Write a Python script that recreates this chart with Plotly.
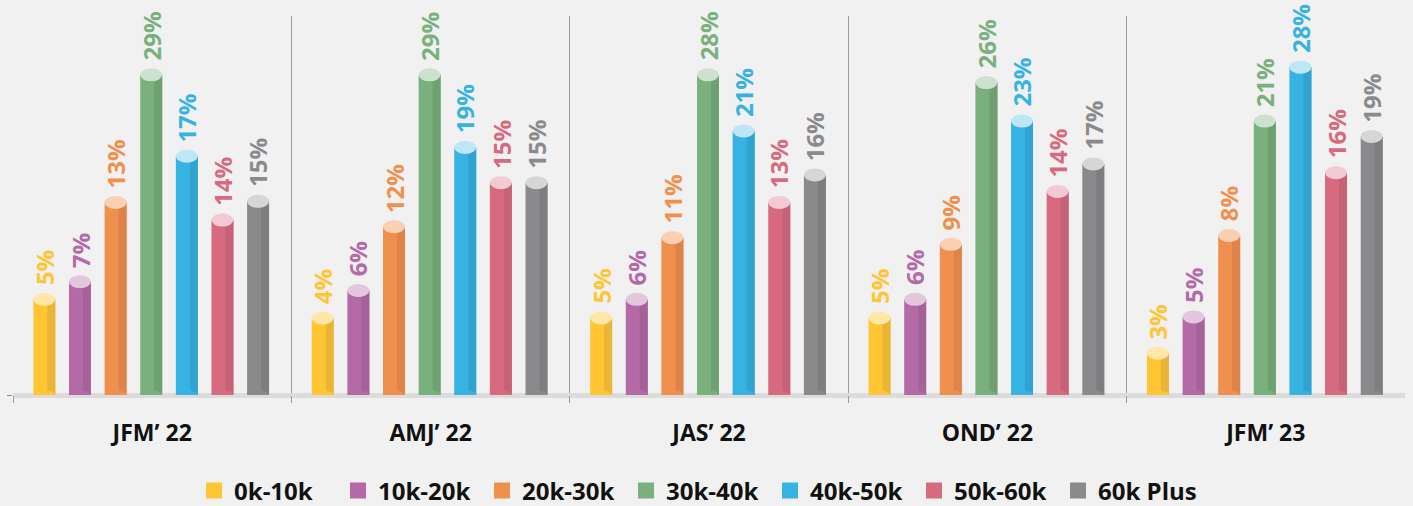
import plotly.graph_objects as go

# ---------------- data ----------------
periods = ["JFM’ 22", "AMJ’ 22", "JAS’ 22", "OND’ 22", "JFM’ 23"]
bands = ["0k-10k", "10k-20k", "20k-30k", "30k-40k", "40k-50k", "50k-60k", "60k Plus"]

# percentage shown above each bar, per salary band, by period
pct_0_10k = [5, 4, 5, 5, 3]
pct_10_20k = [7, 6, 6, 6, 5]
pct_20_30k = [13, 12, 11, 9, 8]
pct_30_40k = [29, 29, 28, 26, 21]
pct_40_50k = [17, 19, 21, 23, 28]
pct_50_60k = [14, 15, 13, 14, 16]
pct_60k_plus = [15, 15, 16, 17, 19]

# drawn bar heights (the infographic is not to scale)
h_0_10k = [8.7, 7.0, 7.0, 7.0, 3.8]
h_10_20k = [10.3, 9.5, 8.7, 8.7, 7.1]
h_20_30k = [17.5, 15.3, 14.3, 13.7, 14.5]
h_30_40k = [29.1, 29.1, 29.1, 28.4, 24.9]
h_40_50k = [21.7, 22.5, 24.0, 24.9, 29.8]
h_50_60k = [15.9, 19.3, 17.5, 18.5, 20.2]
h_60k_plus = [17.6, 19.3, 20.0, 21.0, 23.5]

pcts = [pct_0_10k, pct_10_20k, pct_20_30k, pct_30_40k, pct_40_50k, pct_50_60k, pct_60k_plus]
heights = [h_0_10k, h_10_20k, h_20_30k, h_30_40k, h_40_50k, h_50_60k, h_60k_plus]

colors = ["#FFC533", "#B46AA6", "#F0904E", "#79B07D", "#36B3E2", "#D86A80", "#8A8A8C"]
dark = ["#E9B536", "#A46298", "#DE8349", "#6EA072", "#32A3D0", "#C56277", "#7E7E80"]
light = ["#FFE7A8", "#E4C7DE", "#F9D0B2", "#CEE1CE", "#BEE6F5", "#F2CAD3", "#D6D6D6"]

# ---------------- geometry ----------------
W, H = 1413, 506
ML, MR, MT, MB = 10, 8, 16, 111
plot_w = W - ML - MR
plot_h = H - MT - MB
YMAX = 34.45
px_x = plot_w / 5.0          # pixels per category unit
px_y = plot_h / YMAX         # pixels per y unit

step = 35.7 / px_x
bw = 22 / px_x
strip = 8 / px_x
ell_top = 6.5 / px_y
ell_bot = 4.5 / px_y

fig = go.Figure()
shapes = []
annotations = []

for j, band in enumerate(bands):
    xs = [g + (j - 3) * step - 1.0 / px_x for g in range(len(periods))]
    hs = heights[j]
    fig.add_trace(go.Bar(x=xs, y=hs, width=bw, offset=-bw / 2, marker_color=colors[j],
                         marker_line_width=0, showlegend=False, hoverinfo="skip"))
    fig.add_trace(go.Bar(x=xs, y=hs, width=strip, offset=bw / 2 - strip, marker_color=dark[j],
                         marker_line_width=0, showlegend=False, hoverinfo="skip"))
    for x, h, p in zip(xs, hs, pcts[j]):
        shapes.append(dict(type="circle", xref="x", yref="y", x0=x - bw / 2, x1=x + bw / 2,
                           y0=h - ell_top, y1=h + ell_top, fillcolor=light[j], line_width=0, layer="above"))
        shapes.append(dict(type="circle", xref="x", yref="y", x0=x - bw / 2, x1=x + bw / 2,
                           y0=-ell_bot, y1=ell_bot, fillcolor=colors[j], line_width=0, layer="above"))
        annotations.append(dict(x=x, y=h, xref="x", yref="y", text=f"<b>{p}%</b>", showarrow=False,
                                textangle=-90, yanchor="bottom", xanchor="center", yshift=12,
                                font=dict(family="Open Sans", size=24, color=colors[j])))
    # legend entry
    fig.add_trace(go.Scatter(x=[None], y=[None], mode="markers", name=f"<b>{band}</b>",
                             marker=dict(symbol="square", size=16, color=colors[j])))

fig.update_layout(
    width=W, height=H,
    margin=dict(l=ML, r=MR, t=MT, b=MB),
    paper_bgcolor="#F1F1F1", plot_bgcolor="#F1F1F1",
    barmode="overlay",
    shapes=shapes, annotations=annotations,
    font=dict(family="Open Sans", color="#111111"),
    showlegend=True,
    legend=dict(orientation="h", xref="container", yref="container", x=0.494, y=0.03,
                xanchor="center", yanchor="middle", font=dict(size=24, color="#111111"),
                entrywidth=99, entrywidthmode="pixels",
                bgcolor="rgba(0,0,0,0)"),
)
fig.update_xaxes(range=[-0.5, 4.5], tickvals=list(range(len(periods))),
                 ticktext=[f"<b>{p}</b>" for p in periods], tickfont=dict(size=23, color="#111111"),
                 showgrid=False, zeroline=False, showline=False, ticks="", ticklabelstandoff=22,
                 minor=dict(tickvals=[-0.5, 0.5, 1.5, 2.5, 3.5], showgrid=True, gridcolor="#9A9A9A",
                            gridwidth=1, ticks="outside", ticklen=7, tickcolor="#9A9A9A", tickwidth=1))
fig.update_yaxes(range=[0, YMAX], showgrid=False, showticklabels=False, tickvals=[0],
                 ticks="outside", ticklen=5, tickcolor="#888888",
                 zeroline=True, zerolinecolor="#DCDCDC", zerolinewidth=5, showline=False)

fig.write_html("out.html", config={"displayModeBar": False},
               post_script="document.body.style.margin='0';document.body.style.background='#F1F1F1';")
